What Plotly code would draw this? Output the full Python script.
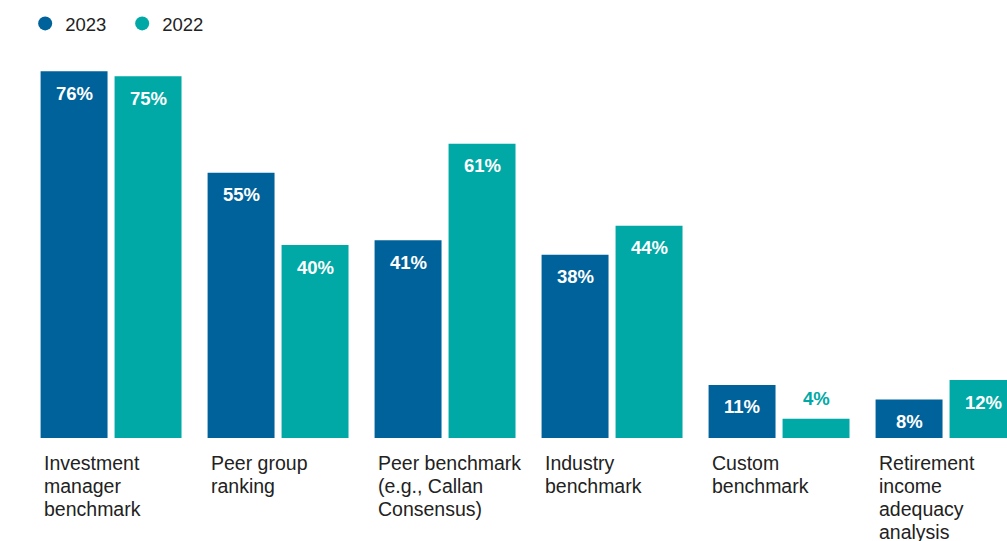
import plotly.graph_objects as go

categories = ["Investment manager benchmark", "Peer group ranking",
              "Peer benchmark (e.g., Callan Consensus)", "Industry benchmark",
              "Custom benchmark", "Retirement income adequacy analysis"]
cat_lines = [["Investment", "manager", "benchmark"], ["Peer group", "ranking"],
             ["Peer benchmark", "(e.g., Callan", "Consensus)"], ["Industry", "benchmark"],
             ["Custom", "benchmark"], ["Retirement", "income", "adequacy", "analysis"]]
values_2023 = [76, 55, 41, 38, 11, 8]
values_2022 = [75, 40, 61, 44, 4, 12]
series_names = ["2023", "2022"]
colors = ["#00629b", "#00a9a5"]

FONT = "Liberation Sans, Arial, sans-serif"
fig = go.Figure()
for name, vals, col in zip(series_names, [values_2023, values_2022], colors):
    fig.add_trace(go.Bar(x=categories, y=vals, name=name, marker_color=col,
                         marker_line_width=0, showlegend=False))
    fig.add_trace(go.Scatter(x=[None], y=[None], mode="markers", name=name,
                             marker=dict(symbol="circle", size=14, color=col)))

annotations = []
for vals, off in [(values_2023, -37), (values_2022, 37)]:
    for c, v in zip(categories, vals):
        small = v < 6
        annotations.append(dict(
            x=c, y=v, xref="x", yref="y", text=f"<b>{v}%</b>", showarrow=False,
            xshift=off, yshift=20 if small else -22, yanchor="middle",
            font=dict(family=FONT, size=18.5,
                      color=(colors[1] if small else "white"))))
for c, lines in zip(categories, cat_lines):
    for i, line in enumerate(lines):
        annotations.append(dict(
            x=c, y=0, xref="x", yref="y", text=line, showarrow=False,
            xanchor="left", yanchor="middle", align="left", xshift=-69,
            yshift=-25 - 23 * i,
            font=dict(family=FONT, size=19.5, color="#222222")))

fig.update_layout(
    width=1007, height=541,
    margin=dict(l=0, r=0, t=52, b=103),
    paper_bgcolor="white", plot_bgcolor="white",
    barmode="group", bargap=0.114, bargroupgap=0.095,
    xaxis=dict(range=[-0.665, 5.365], showticklabels=False, showgrid=False,
               zeroline=False, showline=False, ticks=""),
    yaxis=dict(range=[0, 80], visible=False),
    legend=dict(orientation="h", x=0.025, y=0.991, xanchor="left", yanchor="top",
                yref="container", font=dict(family=FONT, size=18.5, color="#222222"),
                itemwidth=30, entrywidth=52, entrywidthmode="pixels", tracegroupgap=0),
    annotations=annotations,
    font=dict(family=FONT),
)
fig.write_html("out.html")
